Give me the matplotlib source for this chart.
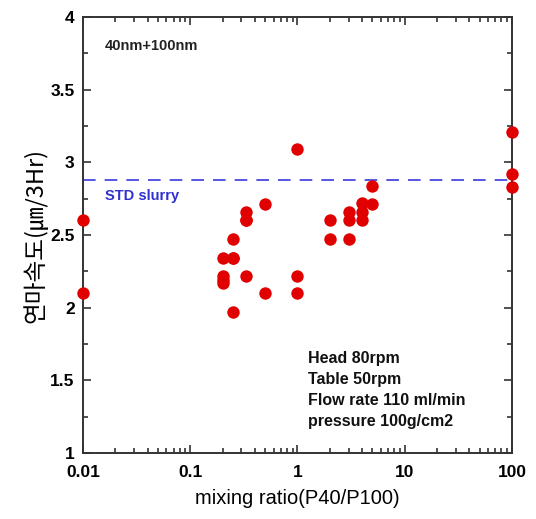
import matplotlib
matplotlib.use('Agg')
import matplotlib.pyplot as plt
from matplotlib.ticker import FixedLocator, NullFormatter, LogLocator

plt.rcParams['font.family'] = ['Liberation Sans', 'Noto Sans CJK KR', 'DejaVu Sans']

# data
ratio = [0.01, 0.01,
         0.2, 0.2, 0.2, 0.2,
         0.25, 0.25, 0.25, 0.25,
         0.33, 0.33, 0.33, 0.33,
         0.5, 0.5,
         1, 1, 1,
         2, 2,
         3, 3, 3,
         4, 4, 4,
         5, 5,
         100, 100, 100]
rate = [2.6, 2.1,
        2.34, 2.22, 2.17, 2.19,
        2.47, 2.34, 2.34, 1.97,
        2.66, 2.6, 2.22, 2.6,
        2.71, 2.1,
        3.09, 2.22, 2.1,
        2.6, 2.47,
        2.66, 2.6, 2.47,
        2.72, 2.66, 2.6,
        2.84, 2.71,
        3.21, 2.92, 2.83]
std_slurry = 2.88
xticks = [0.01, 0.1, 1, 10, 100]
xticklabels = ['0.01', '0.1', '1', '10', '100']
yticks = [1, 1.5, 2, 2.5, 3, 3.5, 4]
yticklabels = ['1', '1.5', '2', '2.5', '3', '3.5', '4']
conditions = ['Head 80rpm', 'Table 50rpm', 'Flow rate 110 ml/min', 'pressure 100g/cm2']

fig = plt.figure(figsize=(5.36, 5.19), dpi=100)
ax = fig.add_axes([0.1549, 0.1272, 0.8001, 0.84])

ax.scatter(ratio, rate, s=80, color='#e00000', zorder=3, clip_on=False, linewidths=0)
ax.axhline(std_slurry, color='#4848e0', lw=1.3, dashes=(7, 5), zorder=2)

ax.set_xscale('log')
ax.set_xlim(0.01, 100)
ax.set_ylim(1, 4)
ax.set_xticks(xticks)
ax.set_xticklabels(xticklabels)
ax.xaxis.set_minor_locator(LogLocator(base=10, subs=range(2, 10)))
ax.xaxis.set_minor_formatter(NullFormatter())
ax.set_yticks(yticks)
ax.set_yticklabels(yticklabels)
ax.yaxis.set_minor_locator(FixedLocator([1.25, 1.75, 2.25, 2.75, 3.25, 3.75]))

for s in ax.spines.values():
    s.set_linewidth(1.4)
    s.set_color('#333333')
ax.tick_params(which='both', direction='in', top=True, right=True, color='#333333', width=1.2)
ax.tick_params(which='major', length=6, labelsize=12.5)
ax.tick_params(axis='x', which='major', pad=9)
ax.tick_params(axis='y', which='major', pad=6)
ax.tick_params(which='minor', length=3.5)
for lab in ax.get_xticklabels() + ax.get_yticklabels():
    lab.set_fontweight('bold')

ax.set_xlabel('mixing ratio(P40/P100)', fontsize=14.5, labelpad=6)
ax.set_ylabel('연마속도(㎛/3Hr)', fontsize=17, family=['Noto Sans CJK KR', 'DejaVu Sans'], labelpad=2)

ax.text(0.016, 3.8, '40nm+100nm', fontsize=10.5, fontweight='bold', color='#222222', va='center')
ax.text(0.016, 2.77, 'STD slurry', fontsize=10.5, fontweight='bold', color='#3030d0', va='center')
ax.text(1.25, 1.43, '\n'.join(conditions), fontsize=11.5, fontweight='bold', color='#111111',
        va='center', linespacing=1.5)

fig.savefig('out.png', dpi=100)
